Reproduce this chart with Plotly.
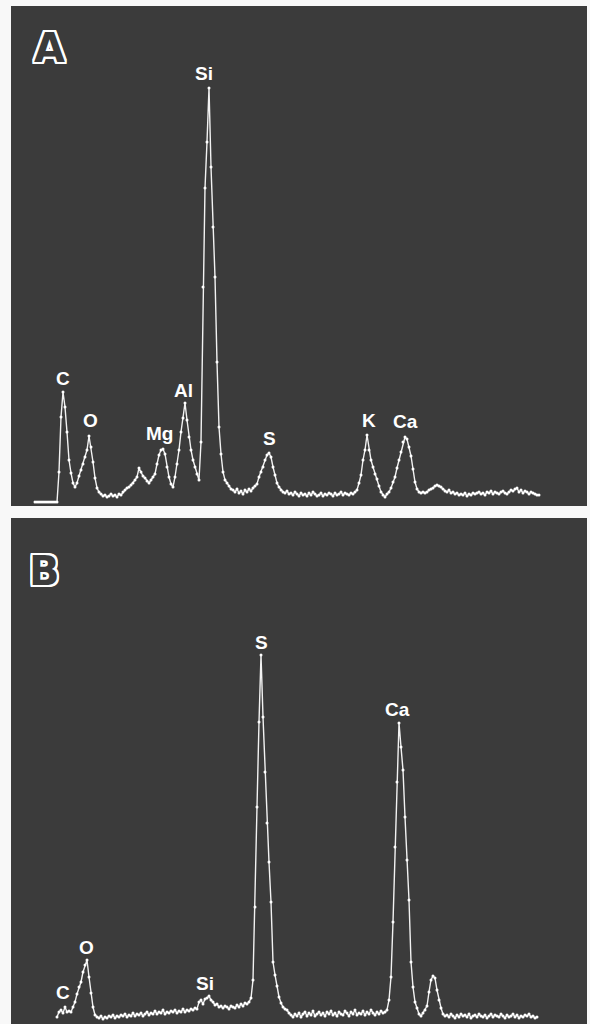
import plotly.graph_objects as go

# ---------------- data (counts per 0.02 keV channel) ----------------
CHANNEL_KEV = 0.02

# Panel A: channels 0..252
A_counts = [
    0, 0, 0, 0, 0, 0, 0, 0, 0, 0,
    0, 0, 30, 85, 110, 95, 70, 42, 29, 19,
    15, 19, 26, 32, 38, 45, 52, 66, 55, 40,
    24, 14, 10, 8, 6, 7, 5, 6, 8, 6,
    7, 5, 8, 7, 10, 12, 14, 15, 17, 19,
    22, 25, 34, 30, 26, 24, 21, 19, 22, 25,
    28, 38, 47, 52, 53, 48, 35, 25, 18, 15,
    25, 38, 52, 70, 84, 99, 82, 65, 52, 42,
    35, 28, 22, 60, 215, 314, 360, 414, 335, 275,
    225, 140, 75, 48, 30, 22, 19, 16, 13, 12,
    10, 13, 9, 11, 8, 12, 10, 13, 11, 14,
    16, 18, 25, 30, 35, 42, 47, 49, 45, 35,
    27, 19, 15, 12, 10, 9, 11, 8, 9, 7,
    10, 8, 6, 9, 7, 8, 6, 9, 7, 10,
    8, 6, 7, 9, 6, 8, 7, 9, 8, 6,
    9, 7, 8, 10, 7, 9, 8, 7, 9, 8,
    10, 12, 19, 27, 42, 52, 67, 52, 42, 35,
    28, 23, 16, 10, 7, 5, 8, 10, 14, 20,
    25, 34, 42, 50, 60, 65, 63, 55, 46, 33,
    20, 13, 10, 9, 10, 9, 10, 12, 13, 14,
    16, 17, 16, 15, 13, 11, 10, 12, 9, 10,
    8, 9, 7, 8, 7, 9, 6, 8, 7, 9,
    8, 9, 10, 8, 9, 7, 10, 9, 11, 8,
    10, 9, 8, 10, 11, 9, 8, 10, 12, 11,
    13, 14, 10, 12, 9, 11, 10, 8, 10, 9,
    8, 7, 7,
]
A_first_channel = 0

# Panel B: channels 11..251
B_counts = [
    5, 10, 12, 9, 15, 10, 11, 10, 15, 20,            # 11-20
    28, 35, 40, 50, 57, 62, 45, 29, 15, 7, 5, 4,     # 21-32
    6, 3, 5, 4, 6, 5, 7, 4, 6, 5,                    # 33-42
    7, 6, 8, 5, 7, 6, 9, 6, 8, 7,                    # 43-52
    9, 6, 8, 10, 7, 9, 8, 11, 8, 10,                 # 53-62
    9, 12, 8, 10, 9, 11, 10, 12, 9, 11,              # 63-72
    10, 13, 10, 12, 11, 13, 12, 14,                  # 73-80
    13, 20, 22, 18, 23, 24, 26, 22, 20, 17,          # 81-90
    18, 15, 16, 14, 16, 15, 13, 16, 15, 14,          # 91-100
    17, 15, 18, 16, 19, 18, 20, 24, 42, 115,         # 101-110
    215, 300, 367, 305, 250, 199, 160, 120, 60, 47,  # 111-120
    36, 25, 19, 15, 13, 12, 9, 7, 5,                 # 121-129
    8, 6, 9, 5, 8, 10, 6, 9, 7, 11,                  # 130-139
    6, 8, 10, 7, 9, 6, 10, 8, 11, 7,                 # 140-149
    9, 6, 10, 8, 7, 11, 9, 6, 10, 8,                 # 150-159
    12, 7, 9, 8, 11, 7, 10, 8, 12, 9,                # 160-169
    7, 10, 8, 11, 9, 10,                             # 170-175
    12, 22, 45, 100, 175, 240, 299, 275, 252, 205,   # 176-185
    162, 122, 60, 35, 20, 14, 8, 6, 9, 12,           # 186-195
    16, 30, 42, 46, 44, 32, 22, 14, 8, 6,            # 196-205
    7, 5, 8, 6, 4, 7, 5, 8, 6, 7,                    # 206-215
    5, 8, 4, 6, 7, 5, 8, 6, 5, 7,                    # 216-225
    4, 6, 8, 5, 7, 6, 5, 8, 6, 4,                    # 226-235
    7, 5, 6, 8, 5, 7, 4, 6, 5, 7,                    # 236-245
    6, 8, 5, 6, 4, 5,                                # 246-251
]
B_first_channel = 11

assert len(A_counts) == 253, len(A_counts)
assert len(B_counts) == 241, len(B_counts)

A_energy = [round((A_first_channel + i) * CHANNEL_KEV, 3) for i in range(len(A_counts))]
B_energy = [round((B_first_channel + i) * CHANNEL_KEV, 3) for i in range(len(B_counts))]

# element labels (text, keV, counts)
A_labels = ["C", "O", "Mg", "Al", "Si", "S", "K", "Ca"]
A_label_kev = [0.28, 0.55, 1.24, 1.48, 1.69, 2.34, 3.34, 3.70]
A_label_cnt = [124, 82, 69, 112, 429, 64, 82, 81]

B_labels = ["C", "O", "Si", "S", "Ca"]
B_label_kev = [0.28, 0.51, 1.70, 2.26, 3.62]
B_label_cnt = [30, 75, 39, 380, 313]

panel_letters = ["A", "B"]

# ---------------- figure ----------------
W, H = 590, 1024
BG = "#3b3b3b"
LINE = "#f2f2f2"

fig = go.Figure()
fig.add_trace(go.Scatter(
    x=A_energy, y=A_counts, mode="lines+markers",
    line=dict(color=LINE, width=1.4), marker=dict(size=3, color="#ffffff"),
    xaxis="x", yaxis="y", showlegend=False, hoverinfo="skip"))
fig.add_trace(go.Scatter(
    x=B_energy, y=B_counts, mode="lines+markers",
    line=dict(color=LINE, width=1.4), marker=dict(size=3, color="#ffffff"),
    xaxis="x2", yaxis="y2", showlegend=False, hoverinfo="skip"))

def px_x(p):
    return p / W

def px_y(p):
    return 1 - p / H

ax_common = dict(visible=False, showgrid=False, zeroline=False, fixedrange=True)
x_dom = [px_x(11), px_x(587)]
x_rng = [-0.24, 5.52]

annotations = []
label_font = dict(family="Liberation Sans, Arial, sans-serif", size=19, color="#ffffff")
for t, xk, yc in zip(A_labels, A_label_kev, A_label_cnt):
    annotations.append(dict(text="<b>%s</b>" % t, x=xk, y=yc, xref="x", yref="y",
                            showarrow=False, font=label_font,
                            xanchor="center", yanchor="middle"))
for t, xk, yc in zip(B_labels, B_label_kev, B_label_cnt):
    annotations.append(dict(text="<b>%s</b>" % t, x=xk, y=yc, xref="x2", yref="y2",
                            showarrow=False, font=label_font,
                            xanchor="center", yanchor="middle"))

outline = ("2px 0 0 #fff, -2px 0 0 #fff, 0 2px 0 #fff, 0 -2px 0 #fff, "
           "2px 2px 0 #fff, -2px -2px 0 #fff, 2px -2px 0 #fff, -2px 2px 0 #fff, "
           "1px 2px 0 #fff, 2px 1px 0 #fff, -1px -2px 0 #fff, -2px -1px 0 #fff, "
           "1px -2px 0 #fff, -2px 1px 0 #fff, 2px -1px 0 #fff, -1px 2px 0 #fff")
letter_pos = [(49, 48), (44, 571)]
for t, (lx, ly) in zip(panel_letters, letter_pos):
    annotations.append(dict(text="<b>%s</b>" % t, x=px_x(lx), y=px_y(ly),
                            xref="paper", yref="paper", showarrow=False,
                            xanchor="center", yanchor="middle",
                            font=dict(family="DejaVu Sans, sans-serif", size=40,
                                      color=BG, shadow=outline)))

fig.update_layout(
    width=W, height=H,
    margin=dict(l=0, r=0, t=0, b=0),
    paper_bgcolor="#f8f8f8",
    plot_bgcolor=BG,
    xaxis=dict(domain=x_dom, range=x_rng, anchor="y", **ax_common),
    yaxis=dict(domain=[px_y(506), px_y(6)], range=[-4, 496], anchor="x", **ax_common),
    xaxis2=dict(domain=x_dom, range=x_rng, anchor="y2", **ax_common),
    yaxis2=dict(domain=[0, px_y(518)], range=[-2, 504], anchor="x2", **ax_common),
    annotations=annotations,
)

fig.write_html(
    "out.html",
    config={"displayModeBar": False},
    post_script="document.body.style.margin='0';document.body.style.overflow='hidden';",
)
